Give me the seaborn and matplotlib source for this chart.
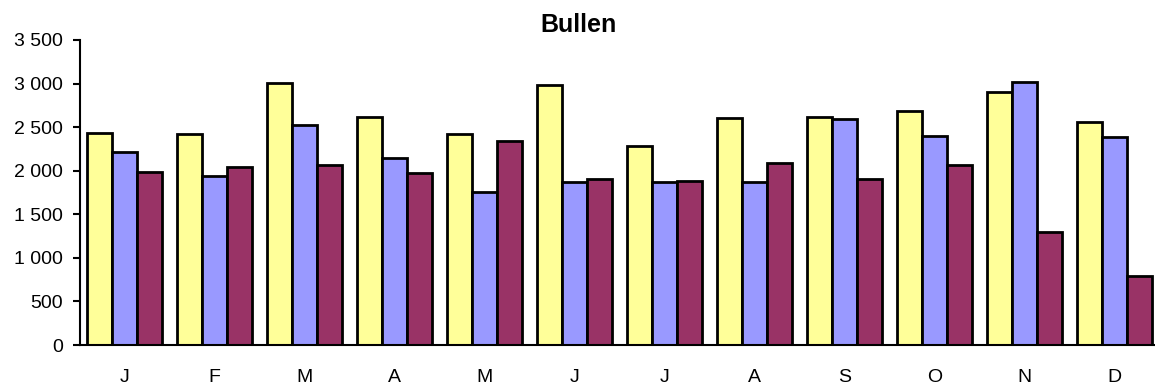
import seaborn as sns
import pandas as pd
import matplotlib.pyplot as plt
from matplotlib.ticker import FuncFormatter

# Monthly values
months = ["J", "F", "M", "A", "M", "J", "J", "A", "S", "O", "N", "D"]
serie_1 = [2430, 2420, 3005, 2615, 2420, 2985, 2285, 2600, 2620, 2685, 2900, 2560]
serie_2 = [2220, 1940, 2525, 2150, 1760, 1875, 1870, 1875, 2590, 2400, 3020, 2385]
serie_3 = [1990, 2045, 2065, 1975, 2345, 1910, 1885, 2085, 1905, 2060, 1300, 790]
series_names = ["Serie 1", "Serie 2", "Serie 3"]
colors = ["#FFFF99", "#9999FF", "#993366"]

rows = []
for name, vals in zip(series_names, [serie_1, serie_2, serie_3]):
    for i, v in enumerate(vals):
        rows.append({"month": i, "serie": name, "value": v})
df = pd.DataFrame(rows)

sns.set_style("white")
plt.rcParams['font.family'] = ['Liberation Sans', 'DejaVu Sans']
plt.rcParams['text.color'] = 'black'
plt.rcParams['xtick.color'] = 'black'
plt.rcParams['ytick.color'] = 'black'

fig = plt.figure(figsize=(11.55, 3.85), dpi=100)
ax = fig.add_axes([79.5 / 1155, 40 / 385, 1080 / 1155, 305 / 385])

sns.barplot(data=df, x="month", y="value", hue="serie", palette=colors,
            saturation=1, width=0.83, gap=0, edgecolor="black", linewidth=2,
            legend=False, ax=ax, errorbar=None)

ax.set_xlim(-0.5, 11.5)
ax.set_ylim(0, 3500)
ax.set_yticks(range(0, 3501, 500))
ax.yaxis.set_major_formatter(FuncFormatter(lambda v, p: f"{int(v):,}".replace(",", " ")))
ax.set_xticks(range(12))
ax.set_xticklabels(months)
ax.tick_params(axis="y", length=5, width=1.5, direction="out", left=True, labelsize=14, pad=7)
ax.tick_params(axis="x", length=0, labelsize=14, pad=17)
ax.set_xlabel("")
ax.set_ylabel("")

for side in ["top", "right"]:
    ax.spines[side].set_visible(False)
for side in ["left", "bottom"]:
    ax.spines[side].set_linewidth(1.5)
    ax.spines[side].set_color("black")

fig.text(579 / 1155, 1 - 25 / 385, "Bullen", ha="center", va="center",
         fontsize=18, fontweight="bold")

fig.savefig("out.png", dpi=100)
